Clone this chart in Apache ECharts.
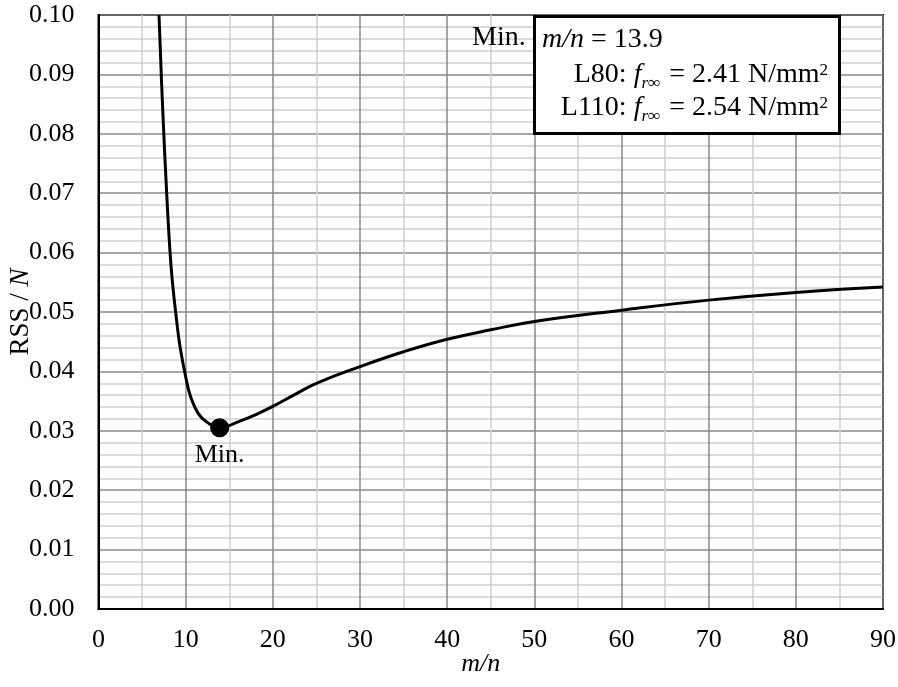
<!DOCTYPE html>
<html>
<head>
<meta charset="utf-8">
<script src="https://cdn.jsdelivr.net/npm/echarts@6/dist/echarts.min.js"></script>
<style>
html,body{margin:0;padding:0;background:#fff;}
#chart{width:898px;height:687px;}
</style>
</head>
<body>
<div id="chart"></div>
<script>
// m/n values and RSS/N values
var mnValues  = [6.94, 7.32, 7.82, 8.2, 8.47, 8.89, 9.35, 10.1, 10.58, 11.45, 12.41, 13.9, 16, 18, 20, 22.5, 25, 30, 35, 40, 45, 50, 60, 70, 80, 90];
var rssValues = [0.100, 0.0857, 0.0700, 0.0602, 0.0552, 0.0495, 0.0442, 0.0384, 0.0357, 0.0329, 0.0315, 0.0305, 0.0315, 0.0327, 0.0341, 0.0361, 0.0380, 0.0408, 0.0433, 0.0454, 0.0470, 0.0484, 0.0503, 0.0520, 0.0533, 0.0542];
var minPoint = [13.9, 0.0305];
var minLabel = 'Min.';

var FONT = '"Liberation Serif", "Times New Roman", serif';
var curve = mnValues.map(function (x, i) { return [x, rssValues[i]]; });

function richLine(prefix, val) {
  return '{t|' + prefix + '}{i|f}{s|r∞}{t| = ' + val + ' N/mm}{p|2}';
}
var annRich = {
  t: {fontFamily: FONT, fontSize: 28, color: '#000', lineHeight: 34, verticalAlign: 'middle'},
  i: {fontFamily: FONT, fontSize: 28, fontStyle: 'italic', color: '#000', lineHeight: 34, verticalAlign: 'middle'},
  s: {fontFamily: FONT, fontSize: 17, fontStyle: 'italic', color: '#000', lineHeight: 34, verticalAlign: 'bottom', padding: [0, 2, 0, 0]},
  p: {fontFamily: FONT, fontSize: 17, color: '#000', lineHeight: 34, verticalAlign: 'top', padding: [4, 0, 0, 0]}
};

var chart = echarts.init(document.getElementById('chart'), null, {renderer: 'canvas'});
chart.setOption({
  backgroundColor: '#fff',
  animation: false,
  grid: {left: 98.5, top: 15, right: 15, bottom: 78, show: true, borderColor: '#000', borderWidth: 2,
    backgroundColor: 'transparent', containLabel: false, outerBoundsMode: 'none'},
  xAxis: {
    type: 'value', min: 0, max: 90, interval: 10,
    name: 'm/n', nameLocation: 'middle', nameGap: 42, nameMoveOverlap: false,
    nameTextStyle: {fontFamily: FONT, fontSize: 26, fontStyle: 'italic', color: '#000', padding: [0, 20, 0, 0]},
    axisLine: {show: true, lineStyle: {color: '#000', width: 2}},
    axisTick: {show: false},
    axisLabel: {fontFamily: FONT, fontSize: 26, color: '#000', margin: 18},
    splitLine: {show: true, lineStyle: {color: '#888', width: 1.5}},
    minorTick: {show: false, splitNumber: 2},
    minorSplitLine: {show: true, lineStyle: {color: '#cfcfcf', width: 1.5}}
  },
  yAxis: {
    type: 'value', min: 0, max: 0.1, interval: 0.01,
    name: '{n|RSS / }{i|N}', nameLocation: 'middle', nameGap: 78, nameRotate: 90, nameMoveOverlap: false,
    nameTextStyle: {fontFamily: FONT, fontSize: 27, color: '#000', verticalAlign: 'middle',
      rich: {n: {fontFamily: FONT, fontSize: 27, color: '#000'}, i: {fontFamily: FONT, fontSize: 27, fontStyle: 'italic', color: '#000'}}},
    axisLine: {show: true, lineStyle: {color: '#000', width: 2}},
    axisTick: {show: false},
    axisLabel: {fontFamily: FONT, fontSize: 26, color: '#000', margin: 24,
      formatter: function (v) { return v.toFixed(2); }},
    splitLine: {show: true, lineStyle: {color: '#888', width: 1.5}},
    minorTick: {show: false, splitNumber: 5},
    minorSplitLine: {show: true, lineStyle: {color: '#cfcfcf', width: 1.5}}
  },
  series: [
    {
      type: 'line', data: curve, smooth: 0.45, showSymbol: false,
      lineStyle: {color: '#000', width: 3}, clip: true, z: 3
    },
    {
      type: 'scatter', data: [minPoint], symbol: 'circle', symbolSize: 19,
      itemStyle: {color: '#000', opacity: 1}, z: 4,
      label: {show: true, position: 'bottom', distance: 5, formatter: minLabel,
        fontFamily: FONT, fontSize: 26, color: '#000'}
    }
  ],
  graphic: [
    {type: 'rect', left: 533, top: 15, shape: {width: 305, height: 117},
      style: {fill: '#fff', stroke: '#000', lineWidth: 3}, z: 10},
    {type: 'text', left: 472, top: 24, z: 11,
      style: {text: 'Min.', font: '28px ' + FONT, fill: '#000'}},
    {type: 'text', left: 542, top: 26, z: 11,
      style: {text: '{i|m/n}{t| = 13.9}', rich: annRich}},
    {type: 'text', right: 898 - 828, top: 58, z: 11,
      style: {text: richLine('L80: ', '2.41'), align: 'right', rich: annRich}},
    {type: 'text', right: 898 - 828, top: 91, z: 11,
      style: {text: richLine('L110: ', '2.54'), align: 'right', rich: annRich}}
  ]
});
</script>
</body>
</html>
